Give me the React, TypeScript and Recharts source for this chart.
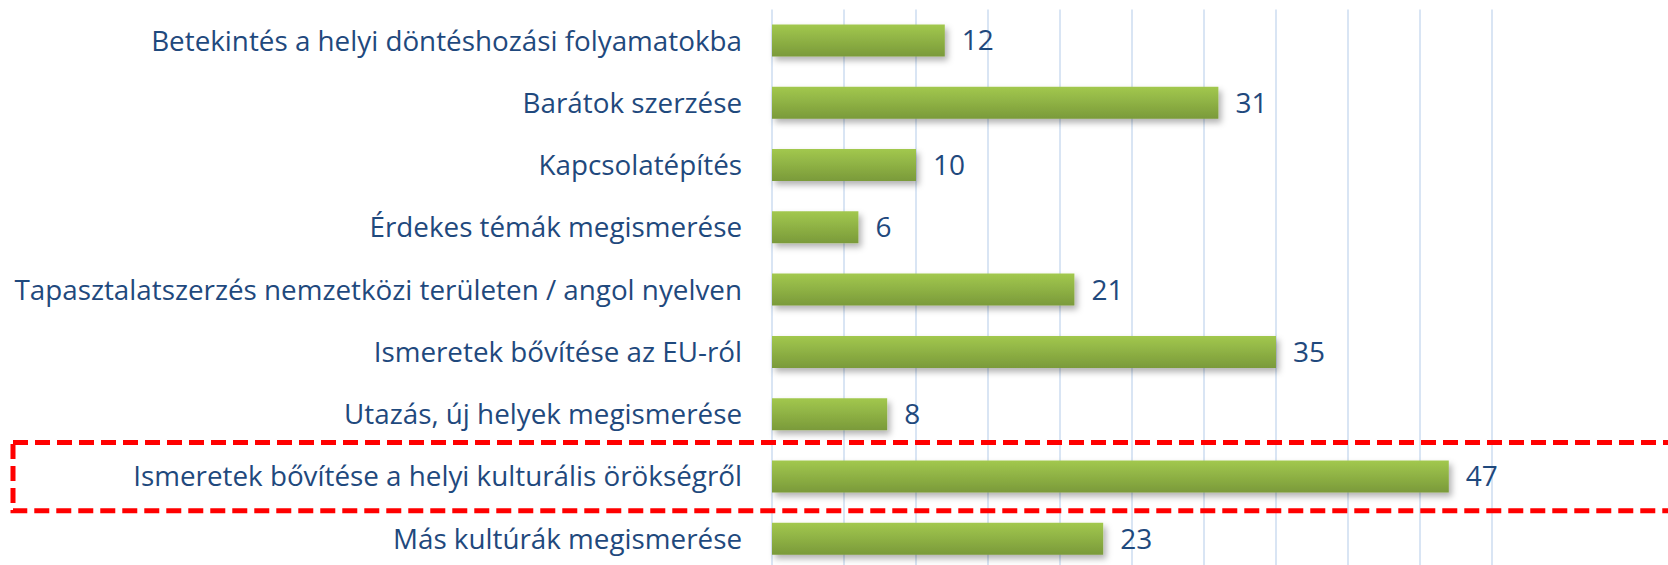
import { BarChart, Bar, XAxis, YAxis, CartesianGrid, LabelList, ReferenceArea } from 'recharts';

const categories = [
  'Betekintés a helyi döntéshozási folyamatokba',
  'Barátok szerzése',
  'Kapcsolatépítés',
  'Érdekes témák megismerése',
  'Tapasztalatszerzés nemzetközi területen / angol nyelven',
  'Ismeretek bővítése az EU-ról',
  'Utazás, új helyek megismerése',
  'Ismeretek bővítése a helyi kulturális örökségről',
  'Más kultúrák megismerése',
];
const values = [12, 31, 10, 6, 21, 35, 8, 47, 23];
const xTicks = [0, 5, 10, 15, 20, 25, 30, 35, 40, 45, 50];
const highlighted = 'Ismeretek bővítése a helyi kulturális örökségről';

const data = categories.map((name, i) => ({ name, value: values[i] }));

const TEXT = '#1F497D';
const FONT = '"Open Sans", "Noto Sans", sans-serif';

const DashedBox = (props: any) => {
  const { y, height } = props;
  return (
    <rect
      x={13}
      y={y - 3}
      width={1700}
      height={height + 6}
      fill="none"
      stroke="#FF0000"
      strokeWidth={5}
      strokeDasharray="15 7"
    />
  );
};

export default function App() {
  return (
    <div style={{ position: 'absolute', left: 0, top: 0, width: 1668, height: 565, overflow: 'hidden', background: '#fff' }}>
      <BarChart
        width={1668}
        height={570}
        data={data}
        layout="vertical"
        margin={{ top: 9.5, right: 176, bottom: 0, left: 0 }}
        barSize={32}
      >
        <defs>
          <linearGradient id="barGrad" x1="0" y1="0" x2="0" y2="1">
            <stop offset="0%" stopColor="#A2C84E" />
            <stop offset="100%" stopColor="#7A9A3A" />
          </linearGradient>
          <filter id="barShadow" x="-5%" y="-30%" width="115%" height="180%">
            <feDropShadow dx={3} dy={4} stdDeviation={3} floodColor="#000" floodOpacity={0.3} />
          </filter>
        </defs>
        <CartesianGrid horizontal={false} vertical stroke="#CCDCF0" strokeWidth={1.5} />
        <XAxis type="number" domain={[0, 50]} ticks={xTicks} hide />
        <YAxis
          type="category"
          dataKey="name"
          width={772}
          axisLine={false}
          tickLine={false}
          tickSize={0}
          tickMargin={30}
          interval={0}
          tick={{ fill: TEXT, fontSize: 27.8, fontFamily: FONT }}
        />
        <ReferenceArea y1={highlighted} y2={highlighted} ifOverflow="visible" shape={<DashedBox />} />
        <Bar dataKey="value" fill="url(#barGrad)" filter="url(#barShadow)" isAnimationActive={false}>
          <LabelList dataKey="value" position="right" offset={17} fill={TEXT} fontSize={28} fontFamily={FONT} />
        </Bar>
      </BarChart>
    </div>
  );
}
